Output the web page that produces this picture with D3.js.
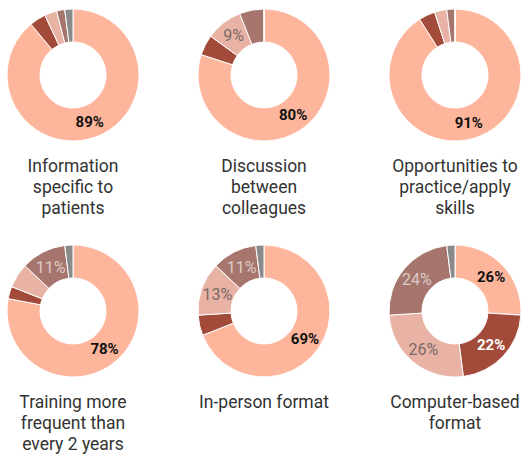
<!DOCTYPE html>
<html>
<head>
<meta charset="utf-8">
<script src="https://cdn.jsdelivr.net/npm/d3@7"></script>
<style>
  body { margin: 0; background: #fff; }
  text { font-family: Roboto, "Noto Sans", sans-serif; }
</style>
</head>
<body>
<svg width="525" height="455"></svg>
<script>
// chart titles, one list of lines per donut
const titles = [
  ["Information", "specific to", "patients"],
  ["Discussion", "between", "colleagues"],
  ["Opportunities to", "practice/apply", "skills"],
  ["Training more", "frequent than", "every 2 years"],
  ["In-person format"],
  ["Computer-based", "format"]
];

// response categories, in clockwise order from 12 o'clock
const categories = ["Strongly agree", "Agree", "Neutral", "Disagree", "No answer"];

// percentage per category, one row per donut
const values = [
  [89, 4, 3, 2, 2],
  [80, 5, 9, 6, 0],
  [91, 4, 3, 2, 0],
  [78, 3, 6, 11, 2],
  [69, 5, 13, 11, 2],
  [26, 22, 26, 24, 2]
];

const svg = d3.select("svg");

const color = d3.scaleOrdinal()
  .domain(categories)
  .range(["#fdb69c", "#a24b3a", "#e8b2a4", "#a6766e", "#8a8a8a"]);

// label styling per slice category
const labelFill = d3.scaleOrdinal()
  .domain(categories)
  .range(["#111", "#fff", "#7a6a66", "#dccbc7", "#fff"]);
const labelWeight = d3.scaleOrdinal()
  .domain(categories)
  .range(["bold", "bold", "normal", "normal", "normal"]);
const labelSize = d3.scaleOrdinal()
  .domain(categories)
  .range(["15px", "15px", "16px", "16px", "16px"]);

const outerR = 66, innerR = 33;
const colX = d3.scalePoint().domain([0, 1, 2]).range([73, 455]);
const rowY = d3.scalePoint().domain([0, 1]).range([75, 311]);

const pie = d3.pie().sort(null).value(d => d.value);
const arc = d3.arc().innerRadius(innerR).outerRadius(outerR);

values.forEach((row, i) => {
  const g = svg.append("g")
    .attr("transform", "translate(" + colX(i % 3) + "," + rowY(Math.floor(i / 3)) + ")");

  const data = row.map((v, j) => ({ cat: categories[j], value: v }));
  const arcs = pie(data);

  g.selectAll("path")
    .data(arcs)
    .enter().append("path")
      .attr("d", arc)
      .attr("fill", d => color(d.data.cat))
      .attr("stroke", "#fff")
      .attr("stroke-width", 1);

  // only slices big enough get a percentage
  g.selectAll(".pct")
    .data(arcs.filter(d => d.data.value >= 8))
    .enter().append("text")
      .attr("class", "pct")
      .attr("transform", d => "translate(" + arc.centroid(d) + ")")
      .attr("text-anchor", "middle")
      .attr("dy", "0.35em")
      .style("font-size", d => labelSize(d.data.cat))
      .style("font-weight", d => labelWeight(d.data.cat))
      .attr("fill", d => labelFill(d.data.cat))
      .text(d => d.data.value + "%");

  // title under the donut
  g.append("text")
    .attr("text-anchor", "middle")
    .attr("fill", "#333")
    .style("font-size", "17.5px")
    .selectAll("tspan")
    .data(titles[i])
    .enter().append("tspan")
      .attr("x", 0)
      .attr("y", (d, k) => outerR + 31 + k * 21)
      .text(d => d);
});
</script>
</body>
</html>
